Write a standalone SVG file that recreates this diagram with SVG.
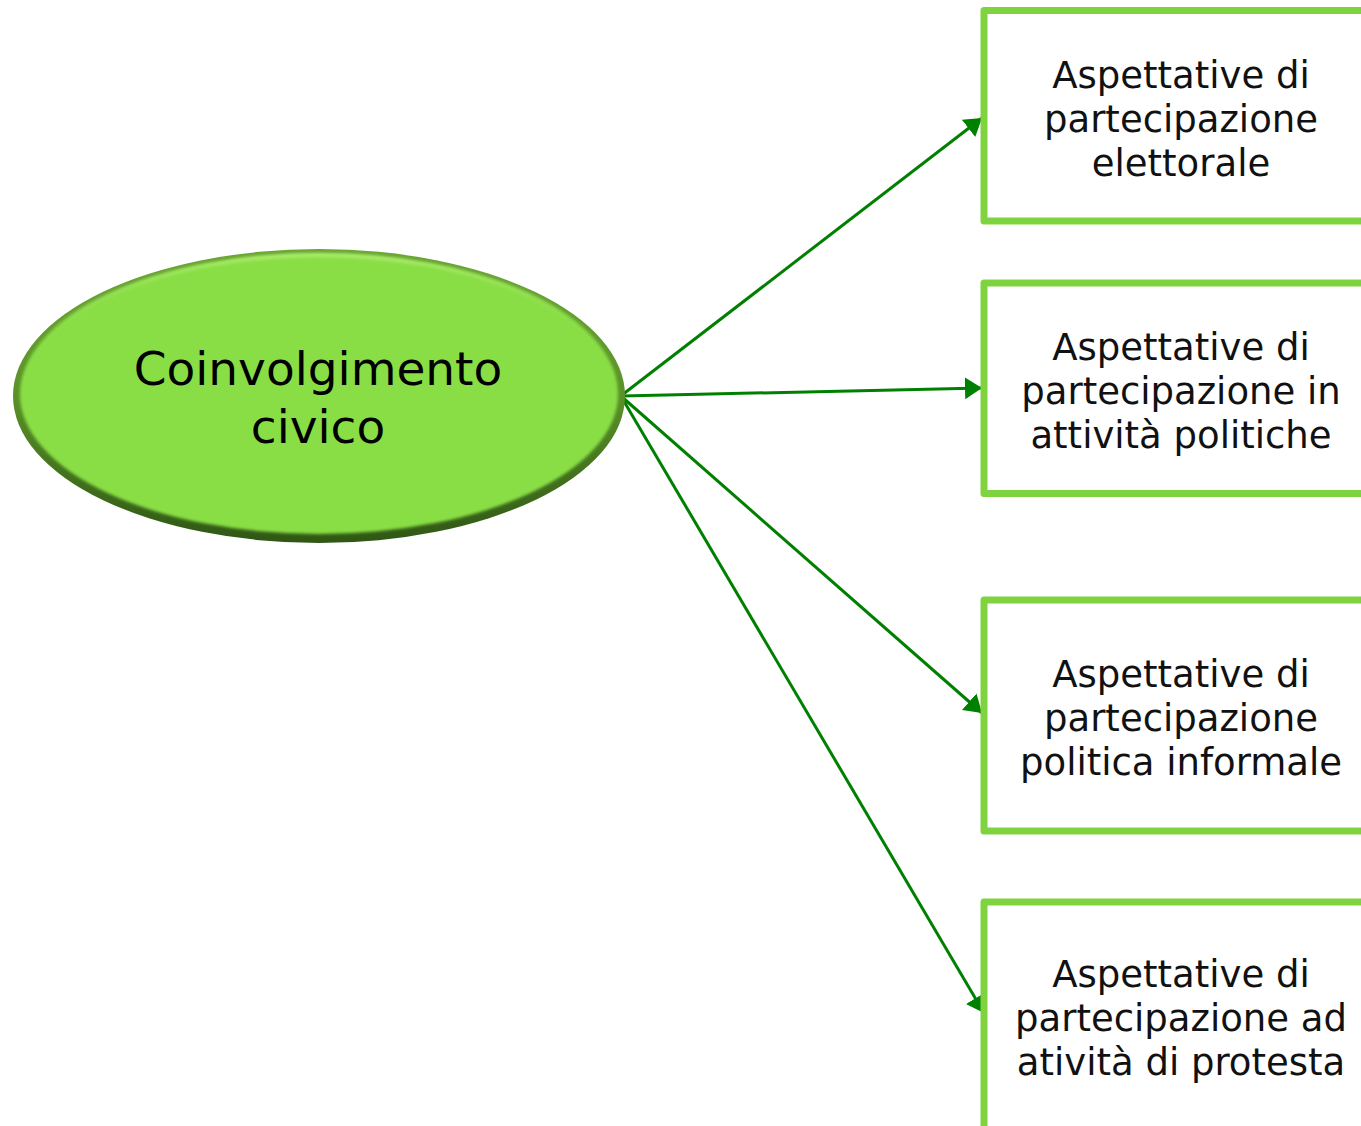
<svg xmlns="http://www.w3.org/2000/svg" width="1361" height="1126" viewBox="0 0 1361 1126">
<style>
.box{fill:#ffffff;stroke:#7ed33f;stroke-width:7;stroke-linejoin:round}
.lbl{font-family:"DejaVu Sans","Liberation Sans",sans-serif;font-size:37px;fill:#111111;text-anchor:middle}
.big{font-family:"DejaVu Sans","Liberation Sans",sans-serif;font-size:47px;fill:#000000;text-anchor:middle}
.conn{stroke:#008000;stroke-width:3;fill:none}
</style>
<defs>
<marker id="ah" markerUnits="userSpaceOnUse" markerWidth="20" markerHeight="26" refX="17" refY="12" orient="auto">
<path d="M0,1 L17,12 L0,23 z" fill="#008000"/>
</marker>
<linearGradient id="rim" x1="0" y1="0" x2="0" y2="1">
<stop offset="0" stop-color="#6aa634"/>
<stop offset="0.5" stop-color="#5a9228"/>
<stop offset="1" stop-color="#2f5715"/>
</linearGradient>
<linearGradient id="hl" x1="0" y1="0" x2="0" y2="1">
<stop offset="0" stop-color="#b0f070" stop-opacity="0.9"/>
<stop offset="0.4" stop-color="#8adf46" stop-opacity="0"/>
<stop offset="1" stop-color="#8adf46" stop-opacity="0"/>
</linearGradient>
<filter id="soft" x="-5%" y="-5%" width="110%" height="110%">
<feGaussianBlur stdDeviation="1.5"/>
</filter>
</defs>
<g id="connectors">
<line class="conn" x1="622" y1="395" x2="982" y2="118" marker-end="url(#ah)"/>
<line class="conn" x1="622" y1="396" x2="982" y2="388" marker-end="url(#ah)"/>
<line class="conn" x1="622" y1="397" x2="982" y2="713" marker-end="url(#ah)"/>
<line class="conn" x1="622" y1="398" x2="984" y2="1013" marker-end="url(#ah)"/>
</g>
<g id="node-coinvolgimento">
<ellipse cx="319" cy="396" rx="306" ry="147" fill="url(#rim)"/>
<ellipse cx="319" cy="394" rx="299" ry="140" fill="#89de45" filter="url(#soft)"/>
<ellipse cx="319" cy="392" rx="297" ry="137" fill="none" stroke="url(#hl)" stroke-width="4" filter="url(#soft)"/>
<text class="big" x="318" y="385">Coinvolgimento</text>
<text class="big" x="318" y="443">civico</text>
</g>
<g id="node-elettorale">
<rect class="box" x="984" y="10.5" width="400" height="210.5"/>
<text class="lbl" x="1181" y="88">Aspettative di</text>
<text class="lbl" x="1181" y="132">partecipazione</text>
<text class="lbl" x="1181" y="176">elettorale</text>
</g>
<g id="node-politiche">
<rect class="box" x="984" y="283" width="400" height="210.5"/>
<text class="lbl" x="1181" y="360">Aspettative di</text>
<text class="lbl" x="1181" y="404">partecipazione in</text>
<text class="lbl" x="1181" y="448">attività politiche</text>
</g>
<g id="node-informale">
<rect class="box" x="984" y="600" width="400" height="231"/>
<text class="lbl" x="1181" y="687">Aspettative di</text>
<text class="lbl" x="1181" y="731">partecipazione</text>
<text class="lbl" x="1181" y="775">politica informale</text>
</g>
<g id="node-protesta">
<rect class="box" x="984" y="902" width="400" height="260"/>
<text class="lbl" x="1181" y="987">Aspettative di</text>
<text class="lbl" x="1181" y="1031">partecipazione ad</text>
<text class="lbl" x="1181" y="1075">atività di protesta</text>
</g>
</svg>
